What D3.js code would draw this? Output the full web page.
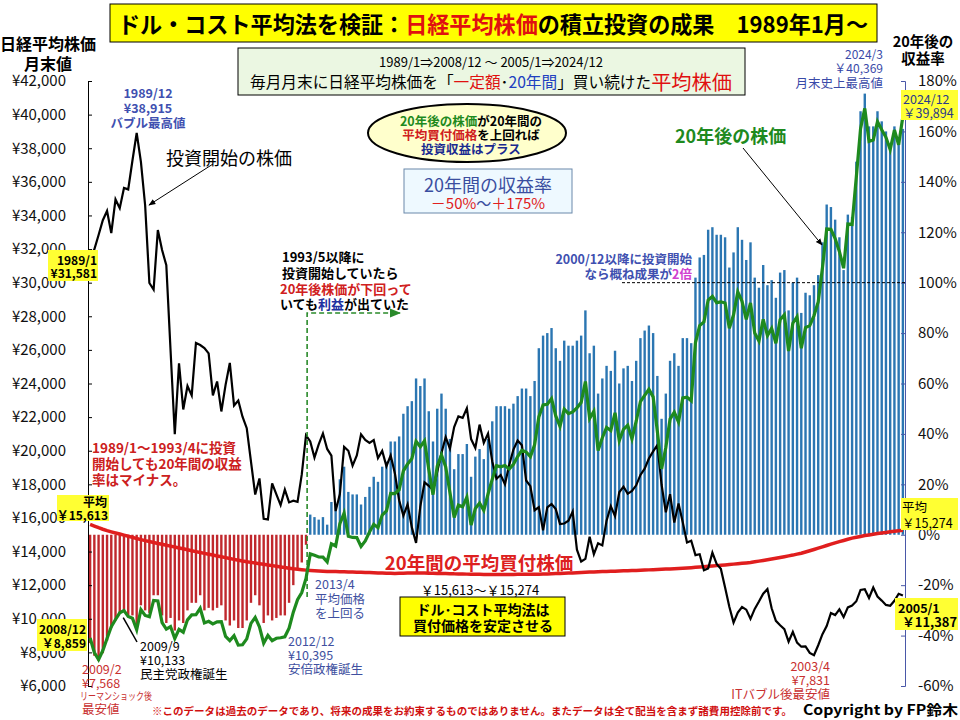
<!DOCTYPE html>
<html>
<head>
<meta charset="utf-8">
<script src="https://cdn.jsdelivr.net/npm/d3@7"></script>
<style>
body { margin: 0; background: #fff; }
svg { display: block; font-family: "Noto Sans CJK JP", sans-serif; }
</style>
</head>
<body>
<svg width="960" height="720"></svg>
<script>
// investment start month 1989/1 ... 2005/1 (193 months)
var startLabels = ["1989/1", "2005/1"];

// Nikkei month-end at start of investment
var startPrice = [
 31581,31986,32839,33714,34267,32949,34954,34431,35637,35549,37269,38915,
 37189,34592,29980,29585,33131,31940,31036,25978,20984,25194,22455,23849,
 23293,26409,26292,26111,25790,23291,24121,22336,23916,25222,22687,22984,
 22023,21339,19346,17391,18348,15952,15910,18061,17399,16767,17684,16925,
 17024,16953,18591,20919,20552,19590,20380,21027,20106,19704,16408,17417,
 20229,19997,19112,19725,20974,20644,20462,20629,19564,19990,19076,19723,
 18650,17053,16140,16807,15437,14517,16678,18117,17913,17655,18744,19868,
 20813,20125,21407,22041,21956,22531,20693,20167,21556,20467,21020,19361,
 18330,18557,18003,19151,20069,20605,20331,18229,17888,16459,16636,15259,
 16628,16832,16527,15641,15671,15830,16379,14108,13406,13564,14884,13842,
 14499,14368,15837,16702,16112,17530,17862,17437,17606,17942,18558,18934,
 19540,19960,20337,17974,16332,17411,15727,16861,15747,14539,14649,13786,
 13843,12884,12999,13934,13262,12969,11861,10714,9775,10367,10697,10543,
 9998,10588,11025,11493,11764,10622,9878,9619,9383,8640,9216,8579,
 8340,8363,7973,7831,8425,9083,9563,10344,10219,10560,10101,10677,
 10784,11042,11715,11762,11236,11859,11326,11082,10824,10771,11069,11489,
 11387];

// Nikkei month-end 20 years later (2008/12 ... 2024/12)
var after20 = [
 8859,
 7994,7568,8110,8828,9523,9958,10357,10493,10133,10035,9346,10546,
 10198,10126,11090,11057,9769,9383,9537,8824,9369,9202,9937,10229,
 10238,10624,9755,9850,9694,9816,9833,8955,8700,8988,8435,8455,
 8803,9723,10084,9521,8543,9007,8695,8840,8870,8928,9446,10395,
 11139,11559,12398,13861,13775,13677,13668,13389,14456,14328,15662,16291,
 14915,14841,14828,14304,14632,15162,15621,15425,16174,16414,17460,17451,
 17674,18798,19207,19520,20563,20236,20585,18890,17388,19083,19747,19034,
 17518,16027,16759,16666,17235,15576,16569,16887,16450,17425,18308,19114,
 19041,19119,18909,19197,19651,20033,19925,19646,20356,22012,22725,22765,
 23098,22068,21454,22468,22202,22305,22554,22865,24120,21920,22351,20015,
 20773,21385,21206,22259,20601,21276,21522,20704,21756,22927,23294,23657,
 23205,21143,18917,20194,21878,22288,21710,23140,23185,22977,26434,27444,
 27663,28966,29179,28813,28860,28792,27284,28090,29453,28893,27822,28792,
 27002,26527,27821,26848,27280,26393,27802,28092,25937,27587,27969,26095,
 27327,27446,28041,28856,30888,33189,33172,32619,31858,30859,33487,33464,
 36287,39166,40369,38406,38488,39583,39102,38648,37920,39081,38208,39894];

// 20-year average buying price
var avgCost = [
 15613,15518,15418,15327,15245,15172,15105,15041,14979,14913,14847,14774,14711,
 14650,14595,14535,14480,14430,14380,14325,14270,14215,14165,14105,14049,
 13995,13945,13893,13840,13790,13740,13690,13637,13585,13535,13482,13433,
 13395,13355,13318,13280,13240,13200,13162,13125,13087,13050,13012,12973,
 12945,12920,12895,12875,12860,12845,12832,12820,12812,12806,12802,12798,
 12790,12782,12774,12766,12757,12748,12740,12731,12722,12714,12707,12700,
 12705,12712,12718,12722,12726,12728,12722,12712,12704,12698,12694,12690,
 12682,12672,12668,12662,12657,12648,12645,12643,12640,12640,12641,12640,
 12636,12636,12637,12640,12643,12645,12644,12643,12647,12655,12663,12670,
 12680,12690,12700,12710,12720,12730,12742,12756,12768,12778,12790,12800,
 12808,12817,12826,12835,12845,12852,12860,12870,12880,12890,12900,12910,
 12920,12932,12945,12955,12963,12978,12990,13005,13022,13040,13060,13080,
 13100,13122,13143,13163,13185,13206,13228,13252,13277,13302,13326,13350,
 13390,13430,13472,13515,13560,13605,13650,13695,13742,13790,13845,13900,
 13975,14050,14125,14200,14280,14360,14440,14520,14590,14660,14730,14800,
 14850,14900,14950,14990,15030,15070,15105,15140,15175,15210,15242,15274];

// 20-year return (%)
var ret20 = [
 -43,-48,-50,-47,-42,-37,-34,-31,-30,-32,-32,-37,-28,
 -30,-31,-24,-24,-32,-35,-33,-38,-34,-35,-30,-27,
 -27,-24,-30,-29,-30,-29,-28,-34,-36,-34,-37,-37,
 -34,-27,-24,-28,-35,-32,-34,-33,-32,-32,-27,-20,
 -14,-11,-4,8,7,6,7,4,13,12,22,27,
 17,16,16,12,15,19,23,21,27,29,37,37,
 39,48,51,53,62,59,62,49,37,50,56,50,
 38,26,32,32,36,23,31,34,30,38,45,51,
 51,51,50,52,55,58,58,55,61,74,79,80,
 82,74,69,77,75,75,77,79,89,72,75,56,
 62,67,65,73,60,66,67,61,69,78,81,83,
 80,63,46,56,69,72,67,78,78,76,102,110,
 111,121,122,119,119,118,106,112,122,117,109,116,
 102,98,107,99,101,94,104,105,89,100,102,88,
 96,95,99,103,116,131,130,125,118,105,127,126,
 148,168,175,162,162,168,164,160,155,162,156,161];

var yenTicks = d3.range(6000, 42001, 2000);
var pctTicks = d3.range(-60, 181, 20);

var svg = d3.select("svg");
var n = startPrice.length;

var x = d3.scaleBand().domain(d3.range(n)).range([88, 905]);
var xc = function(i) { return x(i) + x.bandwidth() / 2; };
var yL = d3.scaleLinear().domain([6000, 42000]).range([686, 81]);
var yR = d3.scaleLinear().domain([-60, 180]).range([686, 81]);

// arrow heads
var defs = svg.append("defs");
function marker(id, col) {
  defs.append("marker").attr("id", id).attr("viewBox", "0 0 10 10")
    .attr("refX", 9).attr("refY", 5).attr("markerWidth", 7).attr("markerHeight", 7)
    .attr("orient", "auto")
    .append("path").attr("d", "M0,1L10,5L0,9Z").style("fill", col);
}
marker("arBlack", "#000");
marker("arGreen", "#2a8a2a");

// text helper
function label(px, py, parts, o) {
  o = o || {};
  var t = svg.append("text").attr("x", px).attr("y", py)
    .attr("dominant-baseline", "central")
    .attr("text-anchor", o.anchor || "start")
    .style("font-size", (o.size || 13) + "px")
    .style("font-weight", o.bold ? "bold" : "normal");
  if (o.len) t.attr("textLength", o.len).attr("lengthAdjust", "spacingAndGlyphs");
  if (typeof parts === "string") parts = [[parts, o.color || "#000"]];
  parts.forEach(function(p) {
    var s = t.append("tspan").text(p[0]).style("fill", p[1]);
    if (p[2]) s.style("font-size", p[2] + "px");
  });
  return t;
}
function box(bx, by, bw, bh, fill, stroke) {
  svg.append("rect").attr("x", bx).attr("y", by).attr("width", bw).attr("height", bh)
    .style("fill", fill).style("stroke", stroke || "none");
}

// bars
svg.append("g").selectAll("rect.ret")
    .data(ret20)
  .enter().append("rect")
    .attr("class", "ret")
    .attr("x", function(d, i) { return xc(i) - 1.2; })
    .attr("width", 2.4)
    .attr("y", function(d) { return yR(Math.max(d, 0)); })
    .attr("height", function(d) { return Math.abs(yR(d) - yR(0)); })
    .style("fill", function(d) { return d < 0 ? "#c0282d" : "#2b76b2"; });

// axes
var axL = svg.append("g").attr("transform", "translate(88,0)")
  .call(d3.axisLeft(yL).tickValues(yenTicks).tickSize(-4).tickSizeOuter(-4).tickPadding(22)
    .tickFormat(function(d) { return "¥" + d3.format(",")(d); }));
axL.attr("font-family", null).attr("font-size", null);
axL.selectAll("text").style("font-size", "15px").style("fill", "#111");

var axR = svg.append("g").attr("transform", "translate(905,0)")
  .call(d3.axisRight(yR).tickValues(pctTicks).tickSize(-4).tickSizeOuter(-4).tickPadding(13)
    .tickFormat(function(d) { return d + "%"; }));
axR.attr("font-family", null).attr("font-size", null);
axR.selectAll("path,line").style("stroke", "#4a58a8");
axR.selectAll("text").style("font-size", "15px").style("fill", "#111");

// 100% dashed reference
svg.append("line").attr("x1", 622).attr("x2", 905).attr("y1", yR(100)).attr("y2", yR(100))
  .style("stroke", "#000").style("stroke-dasharray", "3,2").style("stroke-width", 1);

// lines
var line = d3.line().x(function(d, i) { return xc(i); }).y(function(d) { return yL(d); });
svg.append("path").datum(avgCost).attr("d", line)
  .style("fill", "none").style("stroke", "#e01e1e").style("stroke-width", 3.5);
svg.append("path").datum(startPrice).attr("d", line)
  .style("fill", "none").style("stroke", "#000").style("stroke-width", 2.2);
svg.append("path").datum(after20).attr("d", line)
  .style("fill", "none").style("stroke", "#1e8a1e").style("stroke-width", 3.2);

// dashed green arrow from 1993/5
var x52 = x(52) - 1;
svg.append("path").attr("d", "M" + x52 + ",597V313H400")
  .style("fill", "none").style("stroke", "#2a8a2a").style("stroke-width", 1.6)
  .style("stroke-dasharray", "5,3").attr("marker-end", "url(#arGreen)");

// title
box(110, 4, 767, 38, "#ffff00", "#000");
label(118, 23, [["ドル・コスト平均法を検証：", "#000"], ["日経平均株価", "#e01010"], ["の積立投資の成果　1989年1月～", "#000"]],
  { size: 23, bold: true, len: 750 });

// axis titles
label(48, 43, "日経平均株価", { size: 16, bold: true, anchor: "middle" });
label(48, 63, "月末値", { size: 16, bold: true, anchor: "middle" });
label(923, 40, "20年後の", { size: 14.5, bold: true, anchor: "middle" });
label(923, 57, "収益率", { size: 14.5, bold: true, anchor: "middle" });

// subtitle box
box(238, 48, 507, 47, "#ebf7e2", "#000");
label(491, 61, "1989/1⇒2008/12 ～ 2005/1⇒2024/12", { size: 13, anchor: "middle" });
label(250, 81, [["毎月月末に日経平均株価を「", "#000"], ["一定額", "#e01010"], ["･", "#000"], ["20年間", "#2040c0"],
  ["」買い続けた", "#000"], ["平均株価", "#e01010", 20]], { size: 15.5, len: 482 });

// ellipse note
svg.append("ellipse").attr("cx", 467).attr("cy", 133).attr("rx", 99).attr("ry", 29)
  .style("fill", "#ffffcc").style("stroke", "#000").style("stroke-width", 2);
label(471, 120, [["20年後の株価", "#1e8a1e"], ["が20年間の", "#000"]], { size: 12.5, bold: true, anchor: "middle" });
label(471, 134, [["平均買付価格", "#d02020"], ["を上回れば", "#000"]], { size: 12.5, bold: true, anchor: "middle" });
label(471, 148, "投資収益はプラス", { size: 12.5, bold: true, anchor: "middle", color: "#1a2a90" });

// return range box
box(404, 169, 168, 44, "#eef9ff", "#6a88aa");
label(488, 184, "20年間の収益率", { size: 18, anchor: "middle", color: "#3a4ea0" });
label(488, 202, [["－50%", "#e02020"], ["～", "#3a4ea0"], ["＋175%", "#e02020"]], { size: 15, anchor: "middle" });

// bubble peak
label(148, 92, "1989/12", { size: 12.5, bold: true, anchor: "middle", color: "#4050b0" });
label(148, 107, "¥38,915", { size: 12.5, bold: true, anchor: "middle", color: "#4050b0" });
label(148, 122, "バブル最高値", { size: 12.5, bold: true, anchor: "middle", color: "#4050b0" });

// start price label
label(166, 157, "投資開始の株価", { size: 18 });
svg.append("line").attr("x1", 213).attr("y1", 164).attr("x2", 149).attr("y2", 205)
  .style("stroke", "#000").style("stroke-width", 1).attr("marker-end", "url(#arBlack)");

box(48, 250, 50, 31, "#ffff33");
label(97, 259, startLabels[0], { size: 12, bold: true, anchor: "end" });
label(97, 272, "¥31,581", { size: 12, bold: true, anchor: "end" });

// 1993/5 note
label(282, 256, "1993/5以降に", { size: 13, bold: true });
label(282, 272, "投資開始していたら", { size: 13, bold: true });
label(280, 288, "20年後株価が下回って", { size: 13, bold: true, color: "#d02020" });
label(280, 303, [["いても", "#000"], ["利益", "#2030a0"], ["が出ていた", "#000"]], { size: 13, bold: true });

// 2000/12 note
label(692, 258, "2000/12以降に投資開始", { size: 12.5, bold: true, anchor: "end", color: "#4050b0" });
label(692, 273, [["なら概ね成果が", "#4050b0"], ["2倍", "#d040d0"]], { size: 12.5, bold: true, anchor: "end" });

// 20 years later label
label(675, 135, "20年後の株価", { size: 18, bold: true, color: "#1e8a1e" });
svg.append("line").attr("x1", 743).attr("y1", 148).attr("x2", 822).attr("y2", 245)
  .style("stroke", "#000").style("stroke-width", 1).attr("marker-end", "url(#arBlack)");

// record high
label(883, 53, "2024/3", { size: 12, anchor: "end", color: "#3a4aa8" });
label(883, 67, "￥40,369", { size: 12, anchor: "end", color: "#3a4aa8" });
label(883, 82, "月末史上最高値", { size: 12.5, anchor: "end", color: "#3a4aa8" });

box(901, 90, 57, 30, "#ffff33");
label(903, 98, "2024/12", { size: 12.5, color: "#2a3a8a" });
label(903, 112, "￥39,894", { size: 12.5, color: "#2a3a8a" });

// averages
box(901, 498, 57, 32, "#ffff33");
label(902, 506, "平均", { size: 12.5 });
label(902, 522, "￥15,274", { size: 12.5 });

box(57, 495, 52, 26, "#ffff33");
label(107, 501, "平均", { size: 12, bold: true, anchor: "end" });
label(108, 514, "￥15,613", { size: 12, bold: true, anchor: "end" });

// negative period note
label(92, 447, "1989/1～1993/4に投資", { size: 13.5, bold: true, color: "#cc2020" });
label(92, 463, "開始しても20年間の収益", { size: 13.5, bold: true, color: "#cc2020" });
label(92, 479, "率はマイナス。", { size: 13.5, bold: true, color: "#cc2020" });

// average line caption
label(479, 562, "20年間の平均買付株価", { size: 18.5, bold: true, anchor: "middle", color: "#dd2020" });
label(480, 589, "￥15,613～￥15,274", { size: 13, anchor: "middle" });
box(400, 597, 165, 39, "#ffff00", "#000");
label(483, 609, "ドル･コスト平均法は", { size: 14, bold: true, anchor: "middle" });
label(483, 625, "買付価格を安定させる", { size: 14, bold: true, anchor: "middle" });

// 2013/4, 2012/12
label(315, 583, "2013/4", { size: 12.5, color: "#4050a0" });
label(315, 598, "平均価格", { size: 12.5, color: "#4050a0" });
label(315, 612, "を上回る", { size: 12.5, color: "#4050a0" });

label(288, 640, "2012/12", { size: 12.5, color: "#4050a0" });
label(288, 654, "¥10,395", { size: 12.5, color: "#4050a0" });
label(288, 668, "安倍政権誕生", { size: 12.5, color: "#4050a0" });

// 2009/9
label(140, 645, "2009/9", { size: 12.5 });
label(140, 659, "¥10,133", { size: 12.5 });
label(140, 673, "民主党政権誕生", { size: 12.5 });
svg.append("line").attr("x1", 137).attr("y1", 642).attr("x2", xc(9) - 5).attr("y2", yL(after20[9]) + 1)
  .style("stroke", "#000").style("stroke-width", 1.5);

// 2008/12
box(37, 619, 50, 32, "#ffff33");
label(86, 628, "2008/12", { size: 12, bold: true, anchor: "end" });
label(86, 642, "￥8,859", { size: 12, bold: true, anchor: "end" });

// 2009/2
label(82, 668, "2009/2", { size: 12.5, color: "#c83030" });
label(82, 682, "¥7,568", { size: 12.5, color: "#c83030" });
label(80, 695, "リーマンショック後", { size: 10.5, color: "#c83030", len: 72 });
label(82, 708, "最安値", { size: 12.5, color: "#c83030" });

// 2003/4
label(830, 665, "2003/4", { size: 12.5, anchor: "end", color: "#c83030" });
label(830, 679, "¥7,831", { size: 12.5, anchor: "end", color: "#c83030" });
label(830, 693, "ITバブル後最安値", { size: 12.5, anchor: "end", color: "#c83030" });

// 2005/1
box(895, 598, 63, 32, "#ffff33");
label(898, 607, startLabels[1], { size: 12.5, bold: true });
label(902, 621, "￥11,387", { size: 12.5, bold: true, len: 55 });

// footer
label(152, 710, "※このデータは過去のデータであり、将来の成果をお約束するものではありません。またデータは全て配当を含まず諸費用控除前です。",
  { size: 10.5, bold: true, color: "#d01010", len: 640 });
label(803, 709, "Copyright by FP鈴木", { size: 14, bold: true, len: 155 });
</script>
</body>
</html>
